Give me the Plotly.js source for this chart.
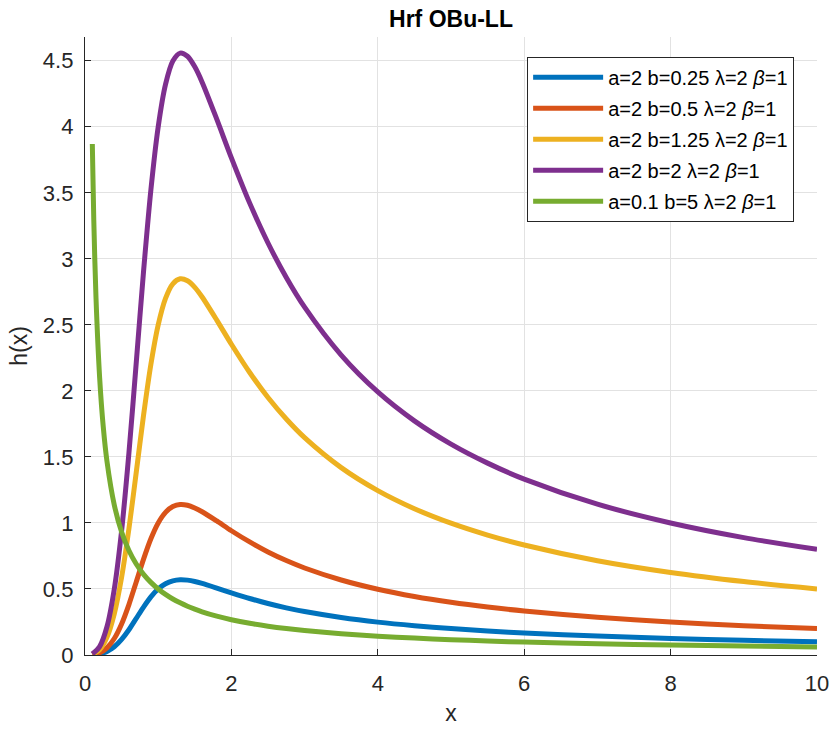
<!DOCTYPE html>
<html>
<head>
<meta charset="utf-8">
<script src="https://cdn.plot.ly/plotly-3.0.1.min.js"></script>
<style>html,body{margin:0;padding:0;background:#fff;}#chart{width:832px;height:731px;}</style>
</head>
<body>
<div id="chart"></div>
<script>
// x positions for the four a=2 curves
const xA = [0.1,0.2,0.3,0.4,0.5,0.6,0.7,0.8,0.9,1.0,1.1,1.2,1.3,1.4,1.5,1.6,1.8,2.0,2.25,2.5,2.75,3,3.5,4,4.5,5,5.5,6,7,8,9,10];
const hBlue   = [0.001,0.008,0.027,0.062,0.118,0.191,0.277,0.363,0.440,0.500,0.540,0.562,0.570,0.567,0.557,0.542,0.507,0.471,0.428,0.390,0.357,0.329,0.284,0.249,0.222,0.200,0.182,0.167,0.143,0.125,0.111,0.100];
const hOrange = [0.002,0.016,0.054,0.125,0.235,0.382,0.553,0.726,0.880,1.000,1.080,1.124,1.140,1.134,1.113,1.085,1.015,0.941,0.856,0.780,0.715,0.659,0.568,0.498,0.443,0.399,0.363,0.333,0.286,0.250,0.222,0.200];
const hYellow = [0.005,0.040,0.134,0.312,0.588,0.956,1.383,1.816,2.201,2.500,2.701,2.811,2.849,2.834,2.784,2.711,2.536,2.353,2.139,1.950,1.787,1.646,1.419,1.245,1.108,0.998,0.908,0.833,0.714,0.625,0.556,0.500];
const hPurple = [0.008,0.064,0.214,0.499,0.941,1.530,2.213,2.906,3.522,4.000,4.321,4.498,4.558,4.534,4.454,4.338,4.058,3.765,3.422,3.120,2.859,2.634,2.271,1.992,1.773,1.597,1.453,1.332,1.142,1.000,0.889,0.800];
// x positions for the a=0.1 curve
const xG = [0.1,0.12,0.15,0.2,0.25,0.3,0.4,0.5,0.6,0.7,0.8,0.9,1.0,1.1,1.2,1.3,1.4,1.5,1.6,1.8,2.0,2.25,2.5,2.75,3,3.5,4,4.5,5,5.5,6,7,8,9,10];
const hGreen = [3.87,3.296,2.709,2.101,1.724,1.467,1.136,0.931,0.791,0.689,0.611,0.550,0.500,0.459,0.424,0.395,0.369,0.347,0.327,0.294,0.267,0.240,0.218,0.200,0.185,0.161,0.142,0.128,0.116,0.106,0.098,0.085,0.075,0.068,0.061];

const names = [
  'a=2 b=0.25 λ=2 <i>β</i>=1',
  'a=2 b=0.5 λ=2 <i>β</i>=1',
  'a=2 b=1.25 λ=2 <i>β</i>=1',
  'a=2 b=2 λ=2 <i>β</i>=1',
  'a=0.1 b=5 λ=2 <i>β</i>=1'
];
const colors = ['#0072BD','#D95319','#EDB120','#7E2F8E','#77AC30'];
const xTicks = [0,2,4,6,8,10];
const yTicks = [0,0.5,1,1.5,2,2.5,3,3.5,4,4.5];
const yTickText = ['0','0.5','1','1.5','2','2.5','3','3.5','4','4.5'];

const ys = [hBlue,hOrange,hYellow,hPurple,hGreen];
const xs = [xA,xA,xA,xA,xG];
const traces = ys.map((y,i)=>({
  x: xs[i], y: y, type:'scatter', mode:'lines', name: names[i], legendgroup:'g'+i,
  line:{color:colors[i], width:5, shape:'spline', smoothing:0.8}
}));

const layout = {
  width:832, height:731,
  margin:{l:85, r:15, t:37, b:76},
  paper_bgcolor:'#fff', plot_bgcolor:'#fff',
  font:{family:'"Liberation Sans", Arial, sans-serif', color:'#262626', size:22},
  title:{text:'<b>Hrf OBu-LL</b>', xref:'paper', x:0.5, xanchor:'center', yref:'container', y:0.974, yanchor:'middle', font:{size:23, color:'#000'}},
  xaxis:{range:[0,10], tickvals:xTicks, ticktext:xTicks.map(String), showgrid:true, gridcolor:'#e2e2e2', gridwidth:1,
    zeroline:false, showline:true, linecolor:'#262626', linewidth:1.2, ticks:'inside', ticklen:6, tickcolor:'#262626',
    ticklabelstandoff:8,
    tickfont:{size:22, color:'#262626'}, title:{text:'x', font:{size:23, color:'#262626'}, standoff:10}},
  yaxis:{range:[0,4.68], tickvals:yTicks, ticktext:yTickText, showgrid:true, gridcolor:'#e2e2e2', gridwidth:1,
    zeroline:false, showline:true, linecolor:'#262626', linewidth:1.2, ticks:'inside', ticklen:6, tickcolor:'#262626',
    ticklabelstandoff:6,
    tickfont:{size:22, color:'#262626'}, title:{text:'h(x)', font:{size:23, color:'#262626'}, standoff:8}},
  legend:{x:0.604, y:0.968, xanchor:'left', yanchor:'top', bgcolor:'#fff', bordercolor:'#262626', borderwidth:1,
    font:{size:20, color:'#000'}, itemwidth:70, tracegroupgap:2},
  showlegend:true
};
Plotly.newPlot('chart', traces, layout, {displayModeBar:false, staticPlot:true});
</script>
</body>
</html>
